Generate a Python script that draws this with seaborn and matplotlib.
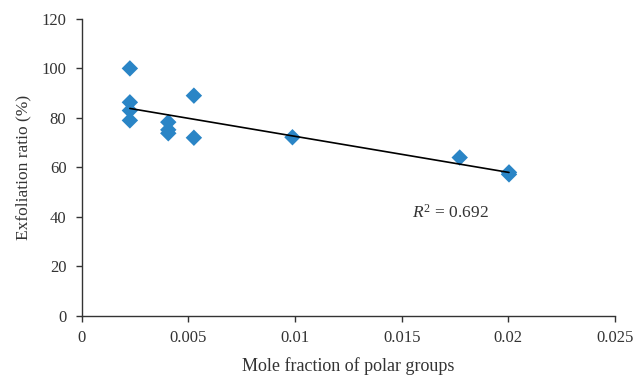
import numpy as np
import pandas as pd
import matplotlib
matplotlib.use("Agg")
import matplotlib.pyplot as plt
import seaborn as sns

# data
mole_fraction = [0.00226, 0.00226, 0.00226, 0.00226, 0.00406, 0.00406, 0.00406,
                 0.00526, 0.00526, 0.00988, 0.01772, 0.02003, 0.02003]
exfoliation = [100.0, 86.3, 83.0, 79.0, 78.3, 75.2, 73.8,
               89.0, 72.0, 72.2, 64.0, 58.0, 57.2]

x_ticks = [0, 0.005, 0.01, 0.015, 0.02, 0.025]
x_tick_labels = ["0", "0.005", "0.01", "0.015", "0.02", "0.025"]
y_ticks = [0, 20, 40, 60, 80, 100, 120]

df = pd.DataFrame({"x": mole_fraction, "y": exfoliation})

sns.set_style("white")
plt.rcParams['font.family'] = ['Liberation Serif', 'DejaVu Serif']
plt.rcParams['mathtext.fontset'] = 'custom'
plt.rcParams['mathtext.it'] = 'Liberation Serif:italic'
plt.rcParams['mathtext.rm'] = 'Liberation Serif'

fig = plt.figure(figsize=(6.38, 3.78), dpi=100)
ax = fig.add_axes([0.128, 0.164, 0.836, 0.786])

sns.scatterplot(data=df, x="x", y="y", marker="D", s=70, color="#2a85c6",
                edgecolor="none", ax=ax, zorder=3)

# linear trendline over the data range
m, b = np.polyfit(df["x"], df["y"], 1)
xs = np.array([df["x"].min(), df["x"].max()])
ax.plot(xs, m * xs + b, color="black", lw=1.2, zorder=4)

ax.text(0.0155, 39.6, r"$R^2$ = 0.692", fontsize=12.5, color="#333333")

ax.set_xlim(0, 0.025)
ax.set_ylim(0, 120)
ax.set_xticks(x_ticks)
ax.set_xticklabels(x_tick_labels)
ax.set_yticks(y_ticks)
ax.tick_params(axis="both", labelsize=12, colors="#333333", direction="out",
               length=4, width=1, bottom=True, left=True)
ax.tick_params(axis="x", pad=6)
ax.tick_params(axis="y", pad=7)
ax.set_xlabel("Mole fraction of polar groups", fontsize=13, color="#333333", labelpad=8)
ax.set_ylabel("Exfoliation ratio (%)", fontsize=12.5, color="#333333", labelpad=7)

for side in ["top", "right"]:
    ax.spines[side].set_visible(False)
for side in ["left", "bottom"]:
    ax.spines[side].set_color("#333333")
    ax.spines[side].set_linewidth(1.0)

fig.savefig("out.png", dpi=100)
